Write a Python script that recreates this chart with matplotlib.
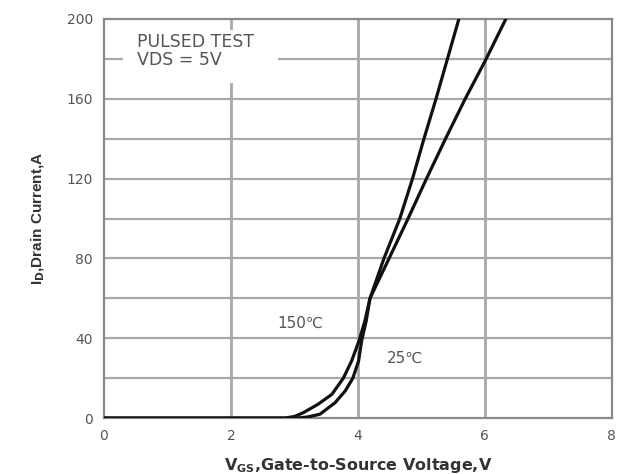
import matplotlib
matplotlib.use("Agg")
import matplotlib.pyplot as plt
from matplotlib.patches import Rectangle

plt.rcParams["font.family"] = ["DejaVu Sans", "Noto Sans CJK SC"]

# transfer characteristics
vgs_25 = [0.0, 3.04, 3.20, 3.40, 3.64, 3.80, 3.92, 4.01, 4.06, 4.13, 4.19, 4.30,
          4.41, 4.66, 4.86, 5.04, 5.23, 5.41, 5.59]
id_25 = [0, 0, 0.5, 1.9, 7.7, 13.6, 20, 28.6, 39, 48.7, 60, 70,
         80, 100, 120, 140, 160, 180, 200]

vgs_150 = [0.0, 2.85, 3.00, 3.14, 3.37, 3.59, 3.77, 3.90, 4.02, 4.11, 4.19, 4.34,
           4.49, 4.79, 5.08, 5.38, 5.69, 6.02, 6.33]
id_150 = [0, 0, 0.8, 2.7, 6.9, 11.9, 20, 28.6, 39, 48.7, 60, 70,
          80, 100, 120, 140, 160, 180, 200]

x_ticks = [0, 2, 4, 6, 8]
y_ticks = [0, 40, 80, 120, 160, 200]

fig = plt.figure(figsize=(6.25, 4.74), dpi=100)
ax = fig.add_axes([0.1664, 0.118, 0.8126, 0.842])

grid_c = "#a8a8a8"
for v in [2, 4, 6]:
    ax.axvline(v, color=grid_c, lw=2.0, zorder=1)
for i in range(20, 200, 20):
    ax.axhline(i, color=grid_c, lw=1.6, zorder=1)

ax.plot(vgs_150, id_150, color="#111111", lw=2.3, zorder=3, solid_joinstyle="round")
ax.plot(vgs_25, id_25, color="#111111", lw=2.3, zorder=3, solid_joinstyle="round")

ax.set_xlim(0, 8)
ax.set_ylim(0, 200)
ax.set_xticks(x_ticks)
ax.set_yticks(y_ticks)
ax.tick_params(length=0, pad=8, labelsize=10, colors="#555555")
for s in ax.spines.values():
    s.set_color("#8a8a8a")
    s.set_linewidth(1.6)

# white patch behind the test-condition note (gridlines are cut there)
ax.add_patch(Rectangle((0.30, 168), 2.44, 26.5, facecolor="white",
                       edgecolor="none", zorder=1.5))
ax.text(0.52, 184, "PULSED TEST\nVDS = 5V", fontsize=12.5, color="#555555",
        va="center", ha="left", linespacing=1.0, zorder=2)
ax.text(3.09, 47.5, "150℃", fontsize=11, color="#555555", ha="center", va="center")
ax.text(4.74, 30, "25℃", fontsize=11, color="#555555", ha="center", va="center")

ax.set_xlabel(r"V$_{\mathbf{GS}}$,Gate-to-Source Voltage,V", fontsize=11.5,
              fontweight="bold", color="#333333", labelpad=9)
ax.set_ylabel(r"I$_{\mathbf{D}}$,Drain Current,A", fontsize=11,
              family=["Liberation Sans", "DejaVu Sans"],
              fontweight="bold", color="#333333", labelpad=14)

fig.savefig("out.png", dpi=100)
